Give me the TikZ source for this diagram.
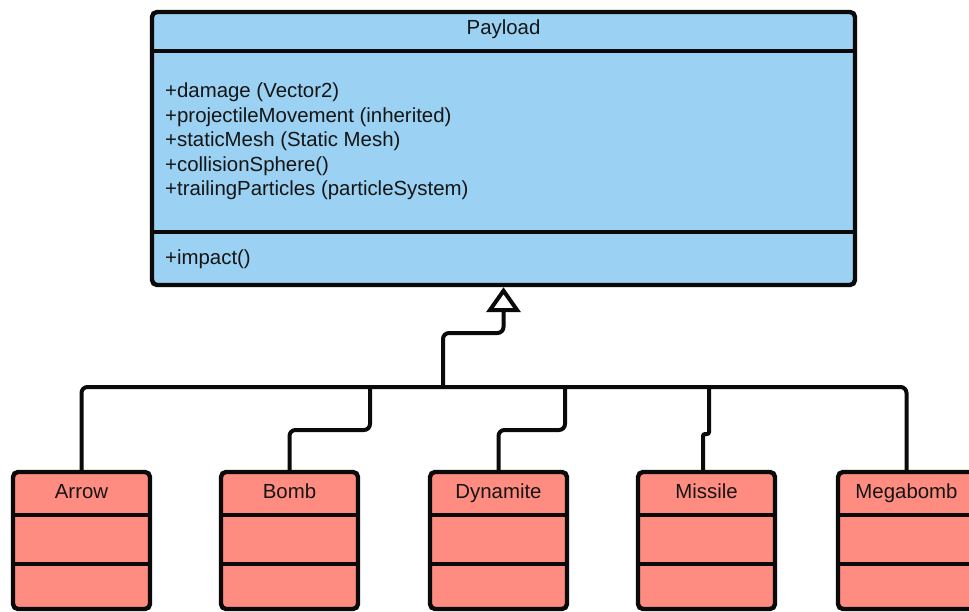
\documentclass[tikz,border=0pt]{standalone}
\usepackage{fontspec}
\setmainfont{Liberation Sans}
\usetikzlibrary{arrows.meta}
\definecolor{pblue}{HTML}{9BD1F2}
\definecolor{psalmon}{HTML}{FF8C80}
\definecolor{ink}{HTML}{0A0A0A}
\definecolor{txtc}{HTML}{151515}
\begin{document}
\begin{tikzpicture}[x=1pt,y=-1pt,
  box/.style={draw=ink, line width=4.4pt, rounded corners=5pt, inner sep=0pt, outer sep=0pt},
  parent/.style={box, fill=pblue, minimum width=703pt, minimum height=273pt},
  child/.style={box, fill=psalmon, minimum width=137pt, minimum height=137pt},
  sepline/.style={draw=ink, line width=4pt},
  conn/.style={draw=ink, line width=4pt, rounded corners=6pt},
  txt/.style={font=\fontsize{20.4pt}{25pt}\selectfont, text=txtc, inner sep=0pt},
]
\useasboundingbox (0,0) rectangle (969,612);

% parent class
\node[parent] (payload) at (503.5,148.5) {};
\draw[sepline] ([yshift=-39pt]payload.north west) -- ([yshift=-39pt]payload.north east);
\draw[sepline] ([yshift=-220pt]payload.north west) -- ([yshift=-220pt]payload.north east);
\node[txt, anchor=base] (ptitle) at (503.5,35) {Payload};
\node[txt, anchor=base west] (a1) at (165,97.5) {+damage (Vector2)};
\node[txt, anchor=base west] (a2) at (165,122.1) {+projectileMovement (inherited)};
\node[txt, anchor=base west] (a3) at (165,146.7) {+staticMesh (Static Mesh)};
\node[txt, anchor=base west] (a4) at (165,171.3) {+collisionSphere()};
\node[txt, anchor=base west] (a5) at (165,195.9) {+trailingParticles (particleSystem)};
\node[txt, anchor=base west] (m1) at (165,265) {+impact()};

% child classes
\foreach \nm/\lbl/\cx in {arrow/Arrow/81.5, bomb/Bomb/289.5, dynamite/Dynamite/498.5, missile/Missile/706.5, megabomb/Megabomb/906.5}{
  \node[child] (\nm) at (\cx,540.5) {};
  \draw[sepline] ([yshift=-43pt]\nm.north west) -- ([yshift=-43pt]\nm.north east);
  \draw[sepline] ([yshift=-92pt]\nm.north west) -- ([yshift=-92pt]\nm.north east);
  \node[txt, anchor=base] (\nm lbl) at (\cx,498) {\lbl};
}

% connectors
\coordinate (hub) at (443,387);
\coordinate (jb) at (370,387);
\coordinate (jd) at (565,387);
\coordinate (jm) at (709,387);
\draw[conn] (arrow.north) |- (hub) -| (megabomb.north);
\draw[conn, -{Triangle[open, length=25pt 0, width=34pt 0]}] (hub) |- ([yshift=-48pt]payload.south) -- ([yshift=-2.2pt]payload.south);
\draw[conn] (bomb.north) -- ++(0,-42) -| (jb);
\draw[conn] (dynamite.north) -- ++(0,-42) -| (jd);
\draw[conn, rounded corners=2pt] ([xshift=-3.5pt]missile.north) -- ++(0,-38) -| (jm);
\end{tikzpicture}
\end{document}
